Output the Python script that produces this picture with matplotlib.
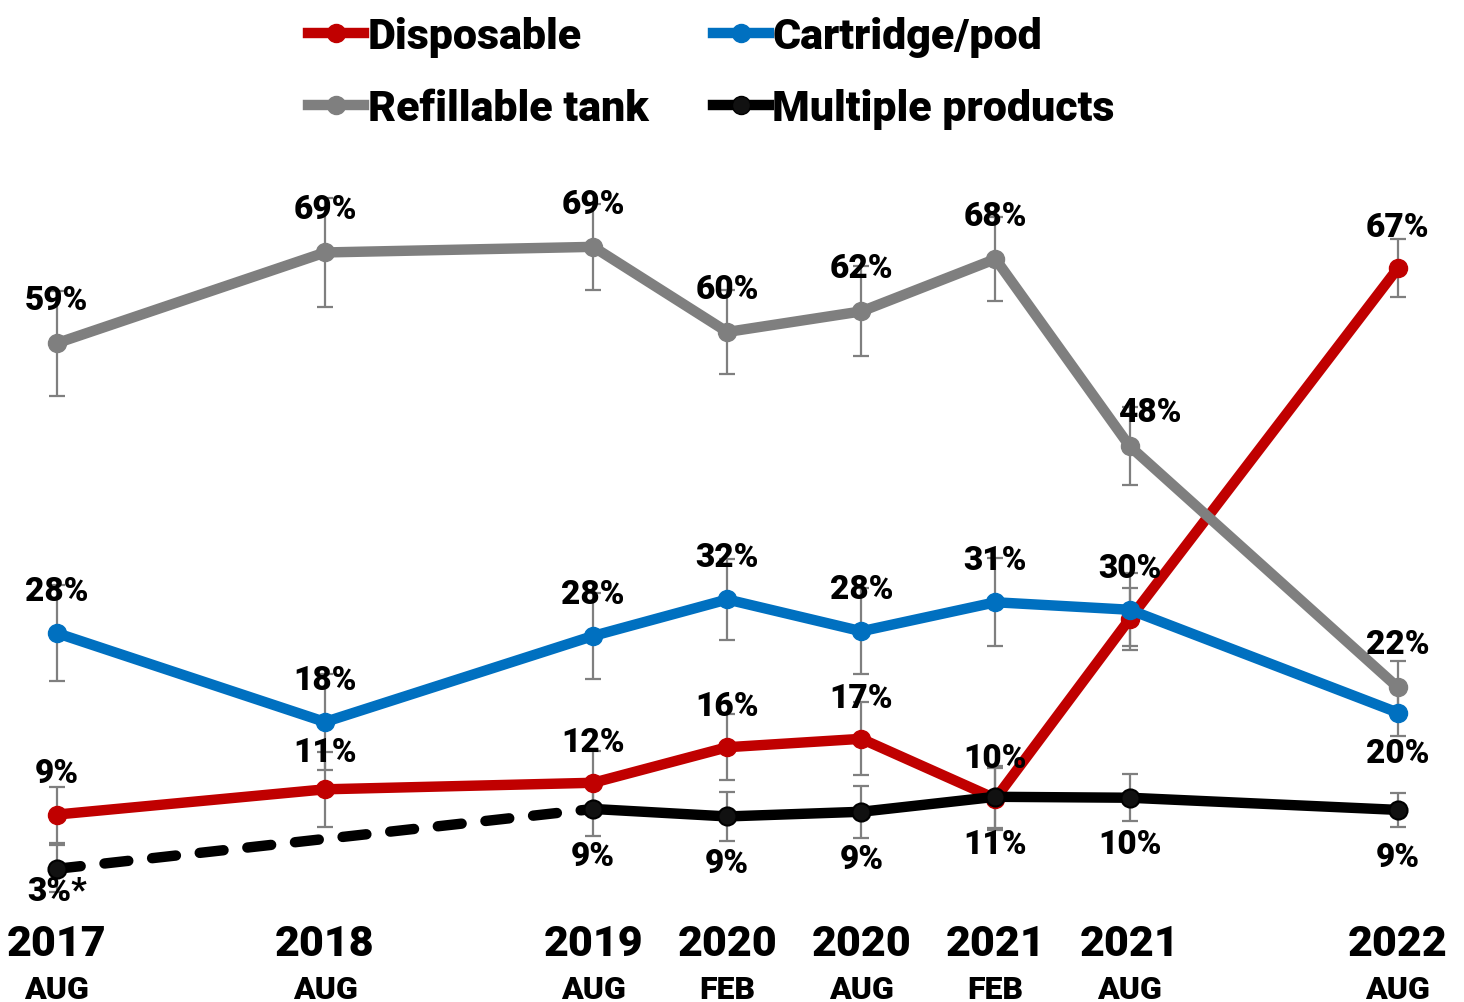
import matplotlib
matplotlib.use('Agg')
from matplotlib import pyplot as plt
from matplotlib.lines import Line2D

# survey waves
years = ['2017', '2018', '2019', '2020', '2020', '2021', '2021', '2022']
months = ['AUG', 'AUG', 'AUG', 'FEB', 'AUG', 'FEB', 'AUG', 'AUG']
x_pos = [2017.583, 2018.583, 2019.583, 2020.083, 2020.583, 2021.083, 2021.583, 2022.583]

# percent of users, per device type (labels as printed)
refillable = [59.0, 68.7, 69.3, 60.2, 62.4, 68.0, 48.0, 22.2]
refillable_lab = ['59%', '69%', '69%', '60%', '62%', '68%', '48%', '22%']
refillable_err = [5.6, 5.8, 4.6, 4.5, 4.8, 4.5, 4.2, 2.8]

cartridge = [28.0, 18.5, 27.7, 31.6, 28.2, 31.3, 30.5, 19.5]
cartridge_lab = ['28%', '18%', '28%', '32%', '28%', '31%', '30%', '20%']
cartridge_err = [5.1, 5.1, 4.6, 4.3, 4.6, 4.7, 3.9, 2.5]

disposable = [8.6, 11.3, 12.0, 15.8, 16.7, 10.3, 29.5, 67.0]
disposable_lab = ['9%', '11%', '12%', '16%', '17%', '10%', '', '67%']
disposable_err = [3.0, 4.0, 3.4, 3.5, 3.9, 3.3, 3.3, 3.1]

multiple = [2.8, None, 9.2, 8.4, 8.9, 10.5, 10.4, 9.1]
multiple_lab = ['3%*', '', '9%', '9%', '9%', '11%', '10%', '9%']
multiple_err = [2.5, None, 2.9, 2.6, 2.8, 3.3, 2.5, 1.8]

RED = '#c00000'
BLUE = '#0070c0'
GRAY = '#7f7f7f'
BLACK = '#000000'
FONT = ['Roboto', 'DejaVu Sans']
W = 'black'

fig = plt.figure(figsize=(14.64, 10.03), dpi=100)
ax = fig.add_axes([0, 0, 1, 1])
ax.set_xlim(2017.371, 2022.830)
ax.set_ylim(-11.44, 95.8)
ax.axis('off')

LW = 7.5
MS = 13


def errbars(xs, ys, errs):
    pts = [(x, y, e) for x, y, e in zip(xs, ys, errs) if y is not None]
    ax.errorbar([p[0] for p in pts], [p[1] for p in pts], yerr=[p[2] for p in pts],
                fmt='none', ecolor=GRAY, elinewidth=1.6, capsize=5.5, capthick=1.6, zorder=1)


errbars(x_pos, disposable, disposable_err)
errbars(x_pos, refillable, refillable_err)
errbars(x_pos, cartridge, cartridge_err)
errbars(x_pos, multiple, multiple_err)

ax.plot(x_pos, disposable, color=RED, lw=LW, marker='o', ms=MS, zorder=2,
        solid_joinstyle='round', solid_capstyle='round')
ax.plot(x_pos, refillable, color=GRAY, lw=LW, marker='o', ms=MS, zorder=3,
        solid_joinstyle='round', solid_capstyle='round')
ax.plot(x_pos, cartridge, color=BLUE, lw=LW, marker='o', ms=MS, zorder=4,
        solid_joinstyle='round', solid_capstyle='round')

# multiple products: dashed bridge over the missing 2018 wave
ax.plot([x_pos[0], x_pos[2]], [multiple[0], multiple[2]], color=BLACK, lw=LW,
        dashes=(2.3, 2.3), dash_capstyle='round', zorder=5)
ax.plot(x_pos[2:], multiple[2:], color=BLACK, lw=LW, zorder=5,
        solid_joinstyle='round', solid_capstyle='round')
mx = [x for x, y in zip(x_pos, multiple) if y is not None]
my = [y for y in multiple if y is not None]
ax.plot(mx, my, ls='none', marker='o', ms=MS, mfc='#111111', mec=BLACK, mew=1.5, zorder=6)

# value labels
lab_kw = dict(ha='center', va='center', fontsize=24, fontweight=W, family=FONT, zorder=10)
for i, (v, t) in enumerate(zip(refillable, refillable_lab)):
    dx, dy = (0.075, 3.6) if i == 6 else (0, 4.6)
    ax.text(x_pos[i] + dx, v + dy, t, **lab_kw)
for i, (v, t) in enumerate(zip(cartridge, cartridge_lab)):
    dy = -4.3 if i == 7 else 4.5
    ax.text(x_pos[i], v + dy, t, **lab_kw)
for i, (v, t) in enumerate(zip(disposable, disposable_lab)):
    if t:
        ax.text(x_pos[i], v + (4.0 if i == 1 else 4.4), t, **lab_kw)
for i, (v, t) in enumerate(zip(multiple, multiple_lab)):
    if t:
        ax.text(x_pos[i], v - (2.4 if i == 0 else 5.0), t, **lab_kw)

# x axis labels
for x, yr, mo in zip(x_pos, years, months):
    ax.text(x, -5.2, yr, ha='center', va='center', fontsize=31, fontweight=W, family=FONT)
    ax.text(x, -10.0, mo, ha='center', va='center', fontsize=23, fontweight=W, family=FONT)

# legend
handles = [
    Line2D([], [], color=RED, lw=LW, marker='o', ms=MS),
    Line2D([], [], color=GRAY, lw=LW, marker='o', ms=MS),
    Line2D([], [], color=BLUE, lw=LW, marker='o', ms=MS),
    Line2D([], [], color=BLACK, lw=LW, marker='o', ms=MS, mfc='#111111'),
]
labels = ['Disposable', 'Refillable tank', 'Cartridge/pod', 'Multiple products']
fig.legend(handles, labels, loc='upper left', bbox_to_anchor=(0.184, 1.022), ncol=2,
           frameon=False, handlelength=1.3, handletextpad=0.08, columnspacing=1.5,
           labelspacing=0.72, prop=dict(family=FONT, weight=W, size=31))

fig.savefig('out.png', dpi=100)
